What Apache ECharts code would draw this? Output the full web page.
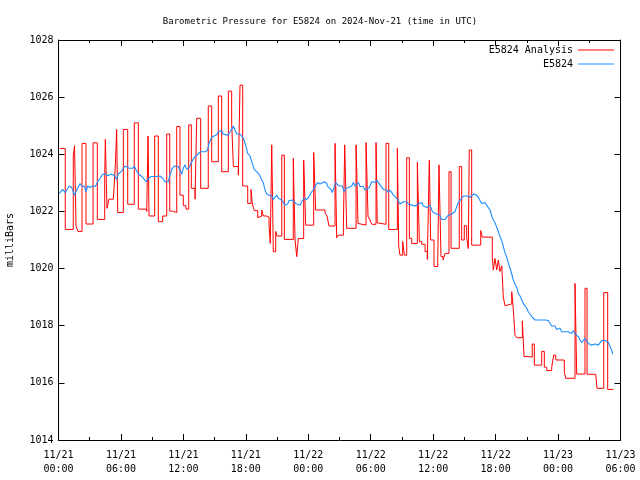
<!DOCTYPE html>
<html>
<head>
<meta charset="utf-8">
<script src="https://cdn.jsdelivr.net/npm/echarts@6/dist/echarts.min.js"></script>
<style>
html,body{margin:0;padding:0;background:#fff;}
#chart{width:640px;height:480px;}
</style>
</head>
<body>
<div id="chart"></div>
<script>
// Hours since 2024-11-21 00:00 UTC
const titleText = 'Barometric Pressure for E5824 on 2024-Nov-21 (time in UTC)';
const yTicks = [1014, 1016, 1018, 1020, 1022, 1024, 1026, 1028];
const xTickHours = [0, 6, 12, 18, 24, 30, 36, 42, 48, 54];

const redT = [0.10,0.65,1.42,1.54,1.68,1.87,2.26,2.64,3.32,3.73,4.44,4.50,4.66,4.85,5.27,5.46,5.59,5.69,6.23,6.65,7.28,7.67,8.48,8.60,8.70,9.24,9.59,10.01,10.40,10.69,10.97,11.36,11.67,11.99,12.25,12.51,12.76,13.12,13.28,13.66,14.39,14.72,15.36,15.68,16.32,16.64,16.80,17.28,17.44,17.70,18.18,18.50,18.62,18.81,19.14,19.20,19.53,19.68,20.01,20.23,20.35,20.49,20.64,20.87,20.99,21.45,21.70,22.56,22.73,22.89,23.04,23.56,23.75,24.52,24.71,25.61,25.80,25.99,26.57,26.73,26.89,27.37,27.50,27.69,28.59,28.78,28.90,29.55,29.74,29.93,30.10,30.51,30.63,30.73,31.47,31.73,32.56,32.69,32.81,33.07,33.23,33.46,33.71,33.94,34.48,34.67,34.90,35.22,35.44,35.63,35.76,36.08,36.44,36.56,36.75,36.95,37.14,37.52,37.72,38.51,38.74,38.99,39.22,39.38,39.47,39.70,40.57,40.72,41.68,41.78,41.94,42.11,42.26,42.42,42.59,42.74,42.90,43.07,43.55,43.70,43.86,44.03,44.57,44.73,45.14,45.52,45.72,46.43,46.68,46.91,47.39,47.58,47.78,48.60,48.73,49.63,49.79,50.59,50.79,51.62,51.74,52.39,52.77,53.31];
const redV = [1024.20,1021.37,1023.94,1024.30,1021.50,1021.30,1024.38,1021.56,1024.40,1021.72,1023.16,1024.52,1022.11,1022.43,1022.36,1023.60,1024.87,1021.96,1024.87,1022.25,1025.10,1022.08,1022.00,1024.64,1021.84,1024.64,1021.64,1021.84,1024.71,1022.01,1021.96,1024.97,1022.57,1022.20,1022.08,1025.03,1022.81,1022.43,1025.26,1022.81,1025.69,1023.74,1026.04,1023.39,1026.21,1025.10,1023.57,1023.27,1026.42,1022.89,1022.28,1022.77,1022.26,1022.03,1021.78,1021.84,1022.05,1021.84,1021.80,1021.52,1020.88,1024.33,1020.59,1021.30,1021.14,1023.97,1021.02,1023.86,1021.00,1020.42,1021.05,1023.80,1021.52,1024.06,1022.05,1021.95,1021.84,1021.49,1024.38,1021.08,1021.17,1021.43,1024.33,1021.41,1024.33,1021.58,1021.52,1024.41,1021.82,1021.70,1021.55,1024.41,1021.60,1021.55,1024.38,1021.37,1024.21,1020.78,1020.47,1020.95,1020.47,1023.88,1021.06,1020.88,1023.72,1020.95,1020.85,1020.60,1020.32,1023.79,1021.00,1020.07,1020.20,1023.63,1020.42,1020.30,1020.53,1023.39,1020.71,1023.57,1021.00,1021.50,1021.10,1020.70,1024.15,1020.82,1021.33,1021.10,1020.40,1019.95,1020.35,1019.95,1020.30,1019.90,1020.10,1019.00,1018.70,1018.76,1019.19,1018.57,1017.67,1017.58,1018.17,1016.92,1016.90,1017.36,1016.62,1017.10,1016.55,1016.43,1016.55,1016.97,1016.80,1016.40,1016.16,1019.48,1016.31,1019.31,1016.30,1016.25,1015.81,1019.16,1015.77,1015.77];

const blueT = [0.08,0.40,0.65,0.79,1.04,1.27,1.52,1.68,1.87,2.07,2.26,2.48,2.64,2.81,3.03,3.29,3.54,3.77,3.99,4.25,4.50,4.73,5.04,5.36,5.59,5.78,6.01,6.17,6.39,6.55,6.80,7.13,7.28,7.45,7.71,8.02,8.24,8.41,8.67,8.89,9.11,
9.44,9.75,10.01,10.23,10.55,10.71,10.88,11.10,11.29,11.51,11.67,11.84,11.99,12.16,12.32,12.57,12.70,12.90,13.12,13.43,13.66,14.08,14.30,14.49,14.72,14.94,15.20,15.36,15.52,15.68,15.84,16.09,16.32,16.48,16.64,16.80,16.96,17.12,17.44,17.70,17.85,18.02,18.18,18.40,
18.50,18.62,18.81,18.98,19.14,19.36,19.52,19.68,19.84,20.01,20.23,20.49,20.64,20.80,20.97,21.12,21.28,21.45,21.60,21.76,22.02,22.15,22.34,22.50,22.66,22.79,22.98,23.21,23.43,23.62,23.85,24.07,24.33,24.58,24.74,24.91,25.13,25.29,25.54,25.77,25.93,26.18,26.31,26.50,26.64,26.83,27.05,27.27,
27.43,27.63,27.85,28.01,28.17,28.33,28.49,28.65,28.81,28.97,29.13,29.29,29.45,29.61,29.87,30.09,30.25,30.41,30.58,30.73,30.89,31.06,31.21,31.37,31.54,31.69,31.85,32.02,32.17,32.33,32.50,32.65,32.81,32.98,33.13,33.29,33.46,33.61,33.78,33.94,34.09,34.26,34.42,34.57,34.74,34.90,35.05,35.22,35.38,35.53,35.70,35.86,36.01,36.18,36.34,36.59,
36.66,36.82,36.98,37.14,37.30,37.46,37.62,37.78,37.94,38.10,38.26,38.42,38.58,38.74,38.90,39.06,39.22,39.38,39.54,39.70,39.86,40.02,40.18,40.34,40.50,40.66,40.82,40.98,41.14,41.30,41.46,41.63,41.78,41.94,42.11,42.26,42.42,42.59,42.74,42.90,43.07,43.22,43.38,43.55,43.70,43.86,44.03,44.18,44.35,44.51,44.66,
44.83,44.99,45.14,45.31,45.47,45.62,45.79,46.10,46.43,46.58,46.75,46.91,47.06,47.23,47.39,47.54,47.71,47.87,48.03,48.19,48.35,48.51,48.67,48.83,48.99,49.15,49.31,49.47,49.63,49.79,49.95,50.11,50.27,50.43,50.59,50.75,50.91,51.07,51.23,51.39,51.55,51.72,51.87,52.03,52.20,52.35,52.51,52.68,52.83,52.99,53.16,53.25];
const blueV = [1022.63,1022.77,1022.66,1022.75,1022.89,1022.84,1022.57,1022.57,1022.84,1022.98,1022.87,1022.89,1022.69,1022.89,1022.84,1022.89,1022.87,1023.04,1023.16,1023.30,1023.31,1023.25,1023.30,1023.27,1023.12,1023.33,1023.39,1023.36,1023.59,1023.54,1023.51,1023.51,1023.59,1023.45,1023.30,1023.22,1023.12,1023.04,1023.16,1023.22,1023.22,
1023.22,1023.24,1023.16,1023.04,1023.04,1023.27,1023.47,1023.59,1023.54,1023.57,1023.43,1023.31,1023.51,1023.63,1023.47,1023.54,1023.66,1023.80,1023.92,1024.01,1024.09,1024.09,1024.13,1024.41,1024.59,1024.64,1024.68,1024.79,1024.73,1024.83,1024.71,1024.68,1024.68,1024.79,1024.87,1024.99,1024.85,1024.71,1024.71,1024.59,1024.48,1024.27,1024.03,1023.94,
1023.89,1023.68,1023.47,1023.51,1023.36,1023.24,1023.10,1023.01,1022.75,1022.61,1022.57,1022.54,1022.42,1022.49,1022.57,1022.46,1022.46,1022.40,1022.34,1022.22,1022.26,1022.38,1022.34,1022.40,1022.38,1022.28,1022.22,1022.22,1022.38,1022.46,1022.42,1022.52,1022.69,1022.81,1022.93,1023.01,1022.96,1022.89,1023.04,1022.98,1022.84,1022.77,1022.66,1022.87,1023.01,1022.93,1022.89,1022.89,
1022.69,1022.81,1022.84,1022.81,1022.89,1023.01,1022.89,1022.96,1023.01,1022.87,1022.87,1022.87,1022.75,1022.77,1022.84,1023.04,1023.08,1023.01,1023.10,1023.01,1022.93,1022.89,1022.77,1022.73,1022.75,1022.66,1022.75,1022.66,1022.57,1022.54,1022.46,1022.40,1022.26,1022.28,1022.34,1022.40,1022.34,1022.26,1022.26,1022.22,1022.17,1022.19,1022.22,1022.26,1022.31,1022.31,1022.19,1022.17,1022.14,1022.11,1022.22,1022.05,1021.96,1021.93,1021.91,1021.88,
1021.82,1021.72,1021.76,1021.72,1021.79,1021.87,1021.91,1021.91,1021.91,1021.99,1022.17,1022.31,1022.38,1022.46,1022.54,1022.61,1022.54,1022.49,1022.49,1022.52,1022.61,1022.61,1022.57,1022.49,1022.42,1022.28,1022.22,1022.31,1022.22,1022.19,1022.05,1021.84,1021.70,1021.61,1021.44,1021.29,1021.12,1020.98,1020.77,1020.56,1020.39,1020.21,1020.01,1019.81,1019.60,1019.46,1019.34,1019.13,1019.04,1018.99,1018.78,
1018.72,1018.61,1018.49,1018.41,1018.32,1018.26,1018.20,1018.20,1018.20,1018.18,1018.20,1018.18,1018.18,1018.08,1017.99,1017.94,1017.99,1017.87,1017.83,1017.91,1017.79,1017.73,1017.79,1017.76,1017.79,1017.85,1017.73,1017.83,1017.71,1017.67,1017.62,1017.50,1017.41,1017.48,1017.56,1017.48,1017.38,1017.36,1017.32,1017.36,1017.36,1017.32,1017.32,1017.36,1017.48,1017.50,1017.48,1017.44,1017.41,1017.27,1017.13,1017.01];

const FONT = 'DejaVu Sans Mono';
const redData = redT.map((t, i) => [t, redV[i]]);
const blueData = blueT.map((t, i) => [t, blueV[i]]);

function fmtX(h) {
  const day = 21 + Math.floor(h / 24);
  const hh = h % 24;
  return '11/' + day + '\n' + (hh < 10 ? '0' : '') + hh + ':00';
}

const axisLine = { show: true, onZero: false, lineStyle: { color: '#000', width: 1 } };
const xBase = {
  type: 'value', min: xTickHours[0], max: xTickHours[xTickHours.length - 1], interval: 6,
  axisLine: axisLine, splitLine: { show: false },
  axisTick: { show: true, inside: true, length: 6, lineStyle: { color: '#000' } },
  minorTick: { show: true, splitNumber: 2, length: 3, lineStyle: { color: '#000' } }
};
const yBase = {
  type: 'value', min: yTicks[0], max: yTicks[yTicks.length - 1], interval: 2,
  axisLine: axisLine, splitLine: { show: false },
  axisTick: { show: true, inside: true, length: 6, lineStyle: { color: '#000' } }
};

const chart = echarts.init(document.getElementById('chart'), null, { renderer: 'canvas' });
chart.setOption({
  animation: false,
  backgroundColor: '#fff',
  title: {
    text: titleText, left: 'center', top: 12,
    textStyle: { fontFamily: FONT, fontSize: 9, fontWeight: 'normal', color: '#000' }
  },
  grid: { left: 58.5, right: 19.5, top: 40, bottom: 40, containLabel: false, outerBoundsMode: 'none' },
  legend: [
    { data: ['E5824 Analysis'], right: 21, top: 40, orient: 'vertical', align: 'right', icon: 'rect',
      itemWidth: 36, itemHeight: 1.2, itemGap: 0,
      textStyle: { fontFamily: FONT, fontSize: 10, color: '#000' } },
    { data: ['E5824'], right: 21, top: 54, orient: 'vertical', align: 'right', icon: 'rect',
      itemWidth: 36, itemHeight: 1.2, itemGap: 0,
      textStyle: { fontFamily: FONT, fontSize: 10, color: '#000' } }
  ],
  xAxis: [
    Object.assign({}, xBase, {
      position: 'bottom',
      axisLabel: { show: true, formatter: fmtX, margin: 8, lineHeight: 14,
        fontFamily: FONT, fontSize: 10, color: '#000' }
    }),
    Object.assign({}, xBase, { position: 'top', axisLabel: { show: false } })
  ],
  yAxis: [
    Object.assign({}, yBase, {
      position: 'left',
      name: 'milliBars', nameLocation: 'middle', nameGap: 43, nameRotate: 90,
      nameTextStyle: { fontFamily: FONT, fontSize: 10, color: '#000' },
      axisLabel: { show: true, margin: 5, fontFamily: FONT, fontSize: 10, color: '#000',
        formatter: function (v) { return String(v); } }
    }),
    Object.assign({}, yBase, { position: 'right', axisLabel: { show: false } })
  ],
  series: [
    { name: 'E5824 Analysis', type: 'line', step: 'end', data: redData, showSymbol: false,
      xAxisIndex: 0, yAxisIndex: 0,
      lineStyle: { color: '#ff0000', width: 1 }, itemStyle: { color: '#ff0000' } },
    { name: 'E5824', type: 'line', data: blueData, showSymbol: false,
      xAxisIndex: 0, yAxisIndex: 0,
      lineStyle: { color: '#1e8cff', width: 1.1 }, itemStyle: { color: '#1e8cff' } }
  ]
});
</script>
</body>
</html>
